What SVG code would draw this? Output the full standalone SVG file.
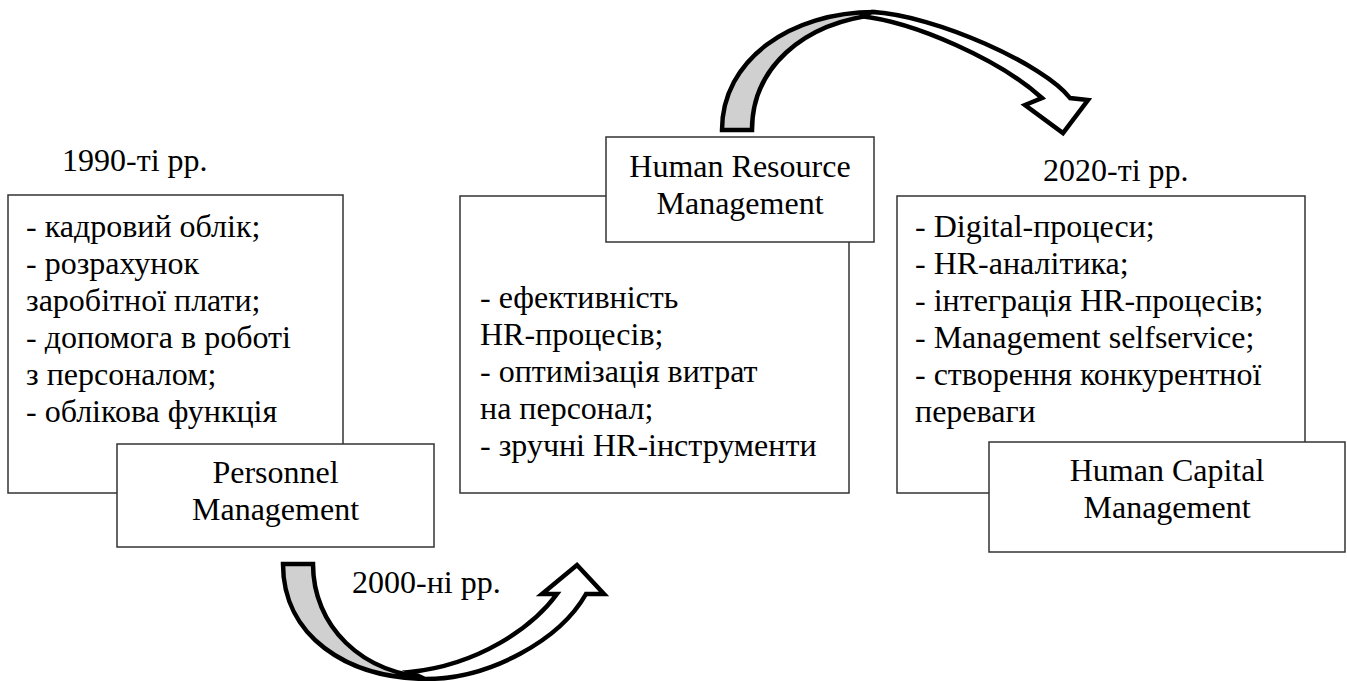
<svg xmlns="http://www.w3.org/2000/svg" width="1347" height="681" viewBox="0 0 1347 681">
<style>
.box{fill:#fff;stroke:#333;stroke-width:1.5}
.t{font-family:"Liberation Serif","Times New Roman",serif;font-size:32px;fill:#000}
.c{text-anchor:middle}
.arr{stroke:#000;stroke-width:4.5;stroke-linejoin:miter;stroke-miterlimit:4}
.back{fill:#d0d0d0}
.front{fill:#fff}
</style>
<rect width="1347" height="681" fill="#fff"/>
<g id="connectors">
<g id="arrow-top">
<path class="arr back" d="M722,130 C722,60 790,12 875,12 L882,14 C800,22 752,70 752,130 Z"/>
<path class="arr front" d="M872,12 C935,15 1045,65 1070,98 L1088,100 L1063,133 L1025,105 L1042,98 C1000,60 915,22 860,16 Z"/>
</g>
<g id="arrow-bottom">
<path class="arr back" d="M283,564 C283,635 345,679 430,679 L435,678 C360,675 313,625 313,564 Z"/>
<path class="arr front" d="M425,679 C490,679 560,640 586,594 L604,594 L577,565 L542,594 L557,594 C532,628 478,665 410,672 Z"/>
</g>
</g>
<g id="label-1990"><text class="t" x="62" y="171">1990-ті рр.</text></g>
<g id="label-2000"><text class="t" x="352" y="593">2000-ні рр.</text></g>
<g id="label-2020"><text class="t" x="1043" y="181">2020-ті рр.</text></g>
<g id="box-1990">
<rect class="box" x="8" y="195" width="335" height="298"/>
<text class="t" x="26" y="237">- кадровий облік;</text>
<text class="t" x="26" y="274">- розрахунок</text>
<text class="t" x="26" y="311">заробітної плати;</text>
<text class="t" x="26" y="348">- допомога в роботі</text>
<text class="t" x="26" y="385">з персоналом;</text>
<text class="t" x="26" y="422">- облікова функція</text>
</g>
<g id="node-personnel">
<rect class="box" x="117" y="444" width="317" height="103"/>
<text class="t c" x="275.5" y="483">Personnel</text>
<text class="t c" x="275.5" y="520">Management</text>
</g>
<g id="box-2000">
<rect class="box" x="460" y="196" width="389" height="297"/>
<text class="t" x="480" y="308">- ефективність</text>
<text class="t" x="480" y="345">HR-процесів;</text>
<text class="t" x="480" y="382">- оптимізація витрат</text>
<text class="t" x="480" y="419">на персонал;</text>
<text class="t" x="480" y="456">- зручні HR-інструменти</text>
</g>
<g id="node-hrm">
<rect class="box" x="606" y="137" width="268" height="105"/>
<text class="t c" x="740" y="177">Human Resource</text>
<text class="t c" x="740" y="214">Management</text>
</g>
<g id="box-2020">
<rect class="box" x="897" y="196" width="408" height="297"/>
<text class="t" x="915" y="237">- Digital-процеси;</text>
<text class="t" x="915" y="274">- HR-аналітика;</text>
<text class="t" x="915" y="311">- інтеграція HR-процесів;</text>
<text class="t" x="915" y="348">- Management selfservice;</text>
<text class="t" x="915" y="385">- створення конкурентної</text>
<text class="t" x="915" y="422">переваги</text>
</g>
<g id="node-hcm">
<rect class="box" x="989" y="442" width="356" height="110"/>
<text class="t c" x="1167" y="481">Human Capital</text>
<text class="t c" x="1167" y="518">Management</text>
</g>
</svg>
